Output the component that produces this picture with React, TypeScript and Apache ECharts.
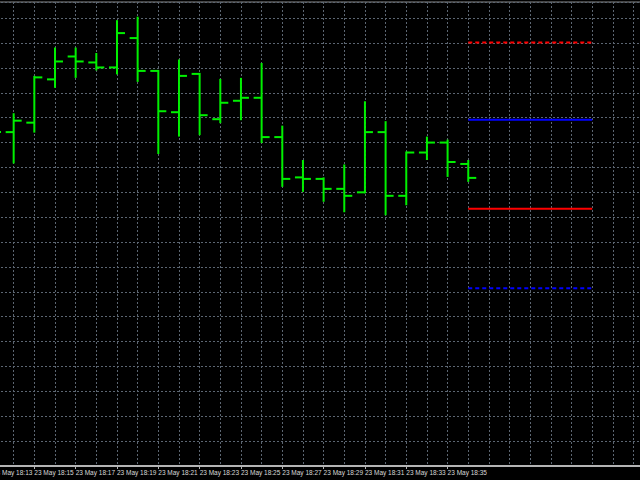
import React, { useEffect, useRef } from "react";
import * as echarts from "echarts";

// minute index: 0 = 23 May 18:13
const times = ["18:13","18:14","18:15","18:16","18:17","18:18","18:19","18:20","18:21","18:22","18:23","18:24","18:25","18:26","18:27","18:28","18:29","18:30","18:31","18:32","18:33","18:34","18:35","18:36"];
const openP  = [1.08665,1.08671,1.08690,1.08777,1.08823,1.08811,1.08801,1.08860,1.08794,1.08711,1.08788,1.08697,1.08734,1.08740,1.08661,1.08580,1.08577,1.08557,1.08550,1.08671,1.08543,1.08630,1.08650,1.08607];
const highP  = [1.08685,1.08707,1.08782,1.08839,1.08839,1.08828,1.08894,1.08901,1.08794,1.08815,1.08788,1.08776,1.08778,1.08808,1.08682,1.08613,1.08578,1.08604,1.08731,1.08691,1.08630,1.08660,1.08654,1.08613];
const lowP   = [1.08655,1.08610,1.08672,1.08762,1.08782,1.08797,1.08789,1.08774,1.08629,1.08664,1.08667,1.08691,1.08697,1.08651,1.08563,1.08553,1.08533,1.08512,1.08550,1.08506,1.08526,1.08617,1.08583,1.08573];
const closeP = [1.08671,1.08694,1.08781,1.08813,1.08813,1.08801,1.08870,1.08794,1.08713,1.08784,1.08705,1.08730,1.08740,1.08661,1.08577,1.08577,1.08557,1.08543,1.08671,1.08543,1.08630,1.08650,1.08611,1.08579];

const bidPrice = 1.08579;
const levelStart = 23; // 18:36
const levelEnd = 29;   // 18:42
const redDashedLevel = 1.08851;
const blueSolidLevel = 1.08696;
const redSolidLevel = 1.08517;
const blueDashedLevel = 1.08357;

const tickLabels = ["23 May 18:13","23 May 18:15","23 May 18:17","23 May 18:19","23 May 18:21","23 May 18:23","23 May 18:25","23 May 18:27","23 May 18:29","23 May 18:31","23 May 18:33","23 May 18:35"];

const yMin = 1.08;
const yMax = 1.089325;
const yStep = 0.0005;
const xMin = 0;
const xMax = 31.36;

export default function App() {
  const ref = useRef<HTMLDivElement>(null);
  useEffect(() => {
    if (!ref.current) return;
    const chart = echarts.init(ref.current, null, { renderer: "svg" });
    const ohlc = times.map((_, i) => [i, openP[i], highP[i], lowP[i], closeP[i]]);
    const gridColor = "#5c6672";
    const levelSeries = (val: number, color: string, dashed: boolean) => ({
      type: "line",
      xAxisIndex: 0,
      yAxisIndex: 0,
      data: [[levelStart, val], [levelEnd, val]],
      symbol: "none",
      silent: true,
      lineStyle: { color, width: 2, type: dashed ? [4, 3] : "solid" },
      z: 3,
    });
    chart.setOption({
      animation: false,
      backgroundColor: "#000000",
      grid: {
        left: -7,
        right: -1,
        top: 2,
        bottom: 14,
        outerBoundsMode: "none",
        containLabel: false,
        show: true,
        backgroundColor: "#000000",
        borderColor: "#8c8c8c",
        borderWidth: 1,
      },
      xAxis: [
        {
          type: "value",
          min: xMin,
          max: xMax,
          interval: 1,
          axisLine: { show: false },
          axisTick: { show: false },
          axisLabel: { show: false },
          splitLine: { show: true, lineStyle: { color: gridColor, width: 1, type: [2, 2] } },
        },
        {
          type: "value",
          position: "bottom",
          min: xMin,
          max: xMax,
          interval: 2,
          axisLine: { show: true, onZero: false, lineStyle: { color: "#b4b4b4", width: 2 } },
          axisTick: {
            show: true,
            length: 3,
            lineStyle: { color: "#b4b4b4", width: 1 },
            customValues: tickLabels.map((_, k) => k * 2),
          },
          axisLabel: {
            show: true,
            customValues: tickLabels.map((_, k) => k * 2),
            formatter: (v: number) => {
              const k = Math.round(v / 2);
              return k * 2 === Math.round(v) && k < tickLabels.length ? tickLabels[k] : "";
            },
            align: "left",
            margin: 3,
            color: "#d8d8d8",
            fontSize: 6.5,
            fontFamily: "Liberation Sans, Arial, sans-serif",
            hideOverlap: false,
            showMinLabel: true,
          },
          splitLine: { show: false },
        },
      ],
      yAxis: {
        type: "value",
        min: yMin,
        max: yMax,
        interval: yStep,
        axisLine: { show: false },
        axisTick: { show: false },
        axisLabel: { show: false },
        splitLine: { show: true, lineStyle: { color: gridColor, width: 1, type: [2, 2] } },
      },
      series: [
        {
          type: "line",
          data: [],
          silent: true,
          z: 1,
          markLine: {
            silent: true,
            symbol: "none",
            label: { show: false },
            lineStyle: { color: "#3c4249", width: 2, type: "solid" },
            data: [{ yAxis: bidPrice }],
          },
        },
        {
          type: "custom",
          xAxisIndex: 0,
          yAxisIndex: 0,
          clip: true,
          z: 4,
          data: ohlc,
          renderItem: (params: any, api: any) => {
            const x = api.value(0);
            const o = api.coord([x, api.value(1)]);
            const h = api.coord([x, api.value(2)]);
            const l = api.coord([x, api.value(3)]);
            const c = api.coord([x, api.value(4)]);
            const style = { stroke: "#00f000", lineWidth: 2 };
            const tick = 8;
            return {
              type: "group",
              children: [
                { type: "line", shape: { x1: h[0], y1: h[1] - 1, x2: l[0], y2: l[1] + 1 }, style },
                { type: "line", shape: { x1: o[0] - tick, y1: o[1], x2: o[0], y2: o[1] }, style },
                { type: "line", shape: { x1: c[0], y1: c[1], x2: c[0] + tick, y2: c[1] }, style },
              ],
            };
          },
        },
        levelSeries(redDashedLevel, "#ff0000", true),
        levelSeries(blueSolidLevel, "#0000ff", false),
        levelSeries(redSolidLevel, "#ff0000", false),
        levelSeries(blueDashedLevel, "#0000ff", true),
      ],
    });
    return () => chart.dispose();
  }, []);
  return (
    <div
      ref={ref}
      style={{ position: "fixed", left: 0, top: 0, width: 640, height: 480, background: "#000" }}
    />
  );
}
